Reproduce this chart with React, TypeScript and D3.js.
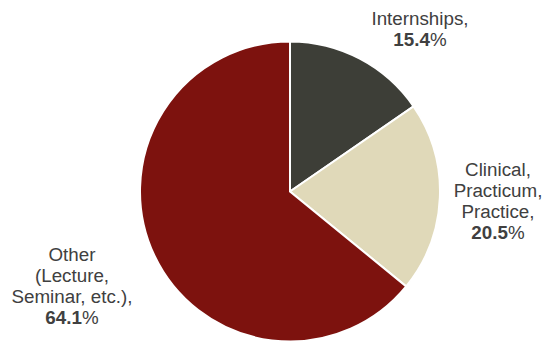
import React from "react";
import * as d3 from "d3";

const categories = ["Internships", "Clinical, Practicum, Practice", "Other (Lecture, Seminar, etc.)"];
const values = [15.4, 20.5, 64.1];
const colors = ["#3d3e37", "#e0d9b9", "#7d120e"];
const labelLines = [["Internships,"], ["Clinical,", "Practicum,", "Practice,"], ["Other", "(Lecture,", "Seminar, etc.),"]];
const pctLabels = ["15.4", "20.5", "64.1"];

const W = 543;
const H = 341;
const cx = 290;
const cy = 191.5;
const R = 150;
const lineH = 21;
const labelPos = [
  { x: 420, y: 25 },
  { x: 498, y: 176 },
  { x: 72, y: 261 },
];

export default function App() {
  const pie = d3.pie<number>().sort(null).value((d) => d);
  const arcs = pie(values);
  const arc = d3.arc<d3.PieArcDatum<number>>().innerRadius(0).outerRadius(R);
  return (
    <svg width={W} height={H} style={{ position: "absolute", left: 0, top: 0 }}>
      <rect width={W} height={H} fill="#ffffff" />
      <g transform={`translate(${cx},${cy})`}>
        {arcs.map((a, i) => (
          <path key={categories[i]} d={arc(a) || ""} fill={colors[i]} stroke="#ffffff" strokeWidth={2} strokeLinejoin="miter" />
        ))}
      </g>
      {labelLines.map((lines, i) => (
        <text
          key={categories[i]}
          x={labelPos[i].x}
          y={labelPos[i].y}
          textAnchor="middle"
          fontFamily="'Liberation Sans', Arial, sans-serif"
          fontSize={18.8}
          fill="#404040"
        >
          {lines.map((l, j) => (
            <tspan key={j} x={labelPos[i].x} y={labelPos[i].y + j * lineH}>
              {l}
            </tspan>
          ))}
          <tspan x={labelPos[i].x} y={labelPos[i].y + lines.length * lineH}>
            <tspan fontWeight="bold">{pctLabels[i]}</tspan>
            <tspan>%</tspan>
          </tspan>
        </text>
      ))}
    </svg>
  );
}
